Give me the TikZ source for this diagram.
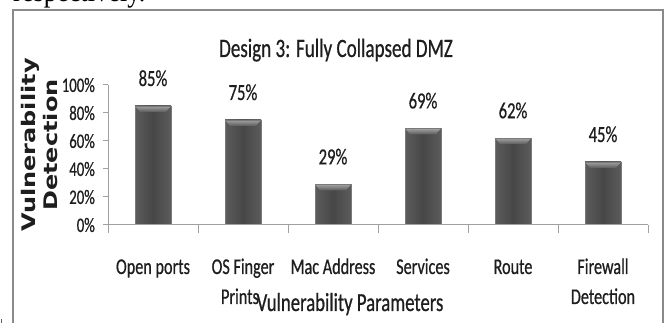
\documentclass[tikz,border=0pt]{standalone}
\usepackage{fontspec}
\newfontfamily\calib[FakeStretch=0.72,FakeBold=0.6]{Carlito}
\newfontfamily\dvs{DejaVu Sans}
\newfontfamily\pagefont[FakeStretch=0.85]{Liberation Serif}
\definecolor{txt}{HTML}{1E1E1E}
\definecolor{axisgray}{HTML}{A0A0A0}
\definecolor{framegray}{HTML}{8A8A8A}
\definecolor{barmid}{HTML}{474747}
\definecolor{barside}{HTML}{5C5C5C}
\definecolor{bevtop}{HTML}{A2A2A2}
\definecolor{bevbot}{HTML}{5A5A5A}
\definecolor{baredge}{HTML}{7A7A7A}
\tikzset{
  axisline/.style={draw=axisgray, line width=1pt},
  framebox/.style={draw=framegray, line width=2pt},
  vallabel/.style={anchor=base, inner sep=0pt, text=txt, font=\calib\fontsize{23}{27}\selectfont},
  catlabel/.style={anchor=base, inner sep=0pt, text=txt, font=\calib\fontsize{22.5}{27}\selectfont},
  ticklabel/.style={anchor=east, inner sep=0pt, text=txt, font=\calib\fontsize{20.5}{24}\selectfont},
  titlelabel/.style={anchor=base, inner sep=0pt, text=txt, font=\calib\fontsize{26.5}{31}\selectfont},
  axtitle/.style={anchor=base, inner sep=0pt, text=txt, font=\calib\fontsize{26}{31}\selectfont},
  ytitle/.style={rotate=90, inner sep=0pt, text=txt, font=\dvs\bfseries\fontsize{24}{29}\selectfont}
}
\begin{document}
\begin{tikzpicture}[x=1pt,y=-1pt]
\useasboundingbox (0,0) rectangle (665,323);
\clip (0,0) rectangle (665,323);
\fill[white] (0,0) rectangle (665,323);
% page text cut at the top
\node[anchor=base west, inner sep=0pt, font=\pagefont\fontsize{31}{31}\selectfont] (page) at (13,2) {respectively.};
% chart frame
\draw[framebox] (13.3,10) rectangle (662.5,335);
% small mark bottom left
\fill[framegray!70!black] (0.5,319) rectangle (2,323);
% title
\node[titlelabel] (title) at (336,57) {Design 3: Fully Collapsed DMZ};
% bars
\foreach \i/\v in {1/85,2/75,3/29,4/69,5/62,6/45} {
  \pgfmathsetmacro\cx{63+90*\i}
  \pgfmathsetmacro\ty{225-1.4*\v}
  \shade[left color=barside, right color=barside, middle color=barmid] (\cx-18,\ty) rectangle (\cx+18,225);
  \shade[top color=bevtop, bottom color=bevbot] (\cx-18,\ty) -- (\cx+18,\ty) -- (\cx+13,\ty+6) -- (\cx-13,\ty+6) -- cycle;
  \draw[draw=baredge, line width=0.8pt] (\cx-18,225) -- (\cx-18,\ty) -- (\cx+18,\ty) -- (\cx+18,225);
  \node[vallabel] (v\i) at (\cx,\ty-20) {\v\%};
}
% axes
\draw[axisline] (108,85) -- (108,225);
\draw[axisline] (103,225) -- (648,225);
\foreach \k in {0,1,2,3,4,5} {
  \pgfmathsetmacro\yy{225-28*\k}
  \pgfmathtruncatemacro\pct{20*\k}
  \draw[axisline] (103,\yy) -- (108,\yy);
  \node[ticklabel] (t\k) at (95,\yy) {\pct\%};
}
\foreach \k in {0,...,6} {
  \draw[axisline] (108+90*\k,225) -- (108+90*\k,233);
}
% category labels
\node[catlabel] (c1) at (153,274) {Open ports};
\node[catlabel] (c2) at (243,274) {OS Finger};
\node[catlabel] (c2b) at (240,304) {Prints};
\node[catlabel] (c3) at (333,274) {Mac Address};
\node[catlabel] (c4) at (423,274) {Services};
\node[catlabel] (c5) at (513,274) {Route};
\node[catlabel] (c6) at (603,274) {Firewall};
\node[catlabel] (c6b) at (603,304) {Detection};
% axis titles
\node[axtitle] (xtitle) at (350,311) {Vulnerability Parameters};
\node[ytitle] (ytitle1) at (30,145) {\scalebox{1}[0.78]{Vulnerability}};
\node[ytitle] (ytitle2) at (51,145) {\scalebox{1}[0.78]{Detection}};
\end{tikzpicture}
\end{document}
